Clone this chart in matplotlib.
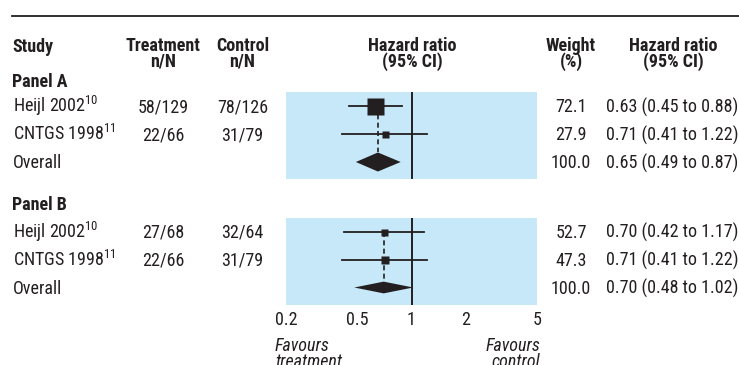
import matplotlib
matplotlib.use('Agg')
import matplotlib.pyplot as plt
from matplotlib.transforms import blended_transform_factory, offset_copy
from matplotlib.patches import Polygon
from matplotlib.ticker import FixedLocator, NullFormatter

plt.rcParams['font.family'] = ['Roboto Condensed', 'DejaVu Sans']
plt.rcParams['mathtext.fontset'] = 'custom'
plt.rcParams['mathtext.rm'] = 'Roboto Condensed'

# data
studies = ['Heijl 2002', 'CNTGS 1998']
refs = ['10', '11']

treat_a = ['58/129', '22/66']
ctrl_a = ['78/126', '31/79']
hr_a = [0.63, 0.71]
lo_a = [0.45, 0.41]
hi_a = [0.88, 1.22]
weight_a = [72.1, 27.9]
overall_a = [0.65, 0.49, 0.87]

treat_b = ['27/68', '22/66']
ctrl_b = ['32/64', '31/79']
hr_b = [0.70, 0.71]
lo_b = [0.42, 0.41]
hi_b = [1.17, 1.22]
weight_b = [52.7, 47.3]
overall_b = [0.70, 0.48, 1.02]

headers = ['Treatment\nn/N', 'Control\nn/N', 'Hazard ratio\n(95% CI)', 'Weight\n(%)', 'Hazard ratio\n(95% CI)']
xticks = [0.2, 0.5, 1, 2, 5]
xticklabels = ['0.2', '0.5', '1', '2', '5']

# styles
ink = '#231f20'
blue = '#c6e8f8'
fs = 13
box_px_a = [17, 7]
box_px_b = [7, 8]
diamond_half_a = 0.34
diamond_half_b = 0.21

fig = plt.figure(figsize=(7.39, 3.65), dpi=100)
ax0 = fig.add_axes([0, 0, 1, 1])
ax0.set_xlim(0, 739)
ax0.set_ylim(365, 0)
ax0.axis('off')

ax0.plot([12, 739], [16, 16], color=ink, lw=1.3)

# headers (baseline = last line for multi-line text)
hdr = dict(fontsize=fs, fontweight='bold', color=ink, va='baseline')
ax0.text(12, 52, 'Study', ha='left', **hdr)
for x, h in zip([163, 242.5, 412, 571, 673], headers):
    ax0.text(x, 67, h, ha='center', multialignment='center', linespacing=0.83, **hdr)
ax0.text(12, 87, 'Panel A', ha='left', **hdr)
ax0.text(12, 210, 'Panel B', ha='left', **hdr)


def panel(rect, treat, ctrl, hr, lo, hi, weight, overall, box_px, dhalf, bottom):
    ax = fig.add_axes(rect)
    ax.set_facecolor(blue)
    for s in ax.spines.values():
        s.set_visible(False)
    ax.set_xscale('log')
    ax.set_xlim(0.2, 5)
    ax.set_ylim(2.625, -0.5)
    ax.set_yticks([])
    ax.xaxis.set_major_locator(FixedLocator(xticks))
    ax.xaxis.set_minor_locator(FixedLocator([0.5, 2]))
    ax.xaxis.set_minor_formatter(NullFormatter())
    if bottom:
        ax.set_xticklabels(xticklabels)
    else:
        ax.set_xticklabels([])
    ax.tick_params(axis='x', which='major', length=0, pad=4, labelsize=fs, labelcolor=ink)
    ax.tick_params(axis='x', which='minor', direction='in', length=3, width=1.4, color='white')

    ax.axvline(1, color=ink, lw=1.4, zorder=4)
    for i in range(len(hr)):
        ax.plot([lo[i], hi[i]], [i, i], color=ink, lw=1.3, zorder=3)
        ax.plot(hr[i], i, marker='s', ms=box_px[i] * 0.72, color=ink, mec='none', zorder=5)
    ov, ovlo, ovhi = overall
    ax.plot([ov, ov], [0, 2 - dhalf], color=ink, lw=1.2, dashes=(3, 2), zorder=2)
    ax.add_patch(Polygon([(ovlo, 2), (ov, 2 - dhalf), (ovhi, 2), (ov, 2 + dhalf)],
                         closed=True, color=ink, lw=0, zorder=5))

    # text columns
    tr = blended_transform_factory(ax0.transData, ax.transData)
    tr = offset_copy(tr, fig=fig, y=-4.6, units='points')
    txt = dict(fontsize=fs, color=ink, va='baseline', transform=tr)
    for i in range(len(hr)):
        ax0.text(13, i, studies[i] + '$^{\\mathrm{' + refs[i] + '}}$', ha='left', **txt)
        ax0.text(163, i, treat[i], ha='center', **txt)
        ax0.text(242.5, i, ctrl[i], ha='center', **txt)
        ax0.text(571, i, f'{weight[i]:.1f}', ha='center', **txt)
        ax0.text(672.5, i, f'{hr[i]:.2f} ({lo[i]:.2f} to {hi[i]:.2f})', ha='center', **txt)
    ax0.text(13, 2, 'Overall', ha='left', **txt)
    ax0.text(571, 2, f'{sum(weight):.1f}', ha='center', **txt)
    ax0.text(672.5, 2, f'{ov:.2f} ({ovlo:.2f} to {ovhi:.2f})', ha='center', **txt)
    return ax


panel([286 / 739, 1 - 179.5 / 365, 251 / 739, 87.5 / 365],
      treat_a, ctrl_a, hr_a, lo_a, hi_a, weight_a, overall_a, box_px_a, diamond_half_a, False)
panel([286 / 739, 1 - 305 / 365, 251 / 739, 87.5 / 365],
      treat_b, ctrl_b, hr_b, lo_b, hi_b, weight_b, overall_b, box_px_b, diamond_half_b, True)

ital = dict(fontsize=fs, style='italic', color=ink, va='baseline')
ax0.text(275, 367, 'Favours\ntreatment', ha='left', linespacing=0.83, **ital)
ax0.text(540, 367, 'Favours\ncontrol', ha='right', multialignment='right', linespacing=0.83, **ital)

fig.savefig('out.png', dpi=100)
